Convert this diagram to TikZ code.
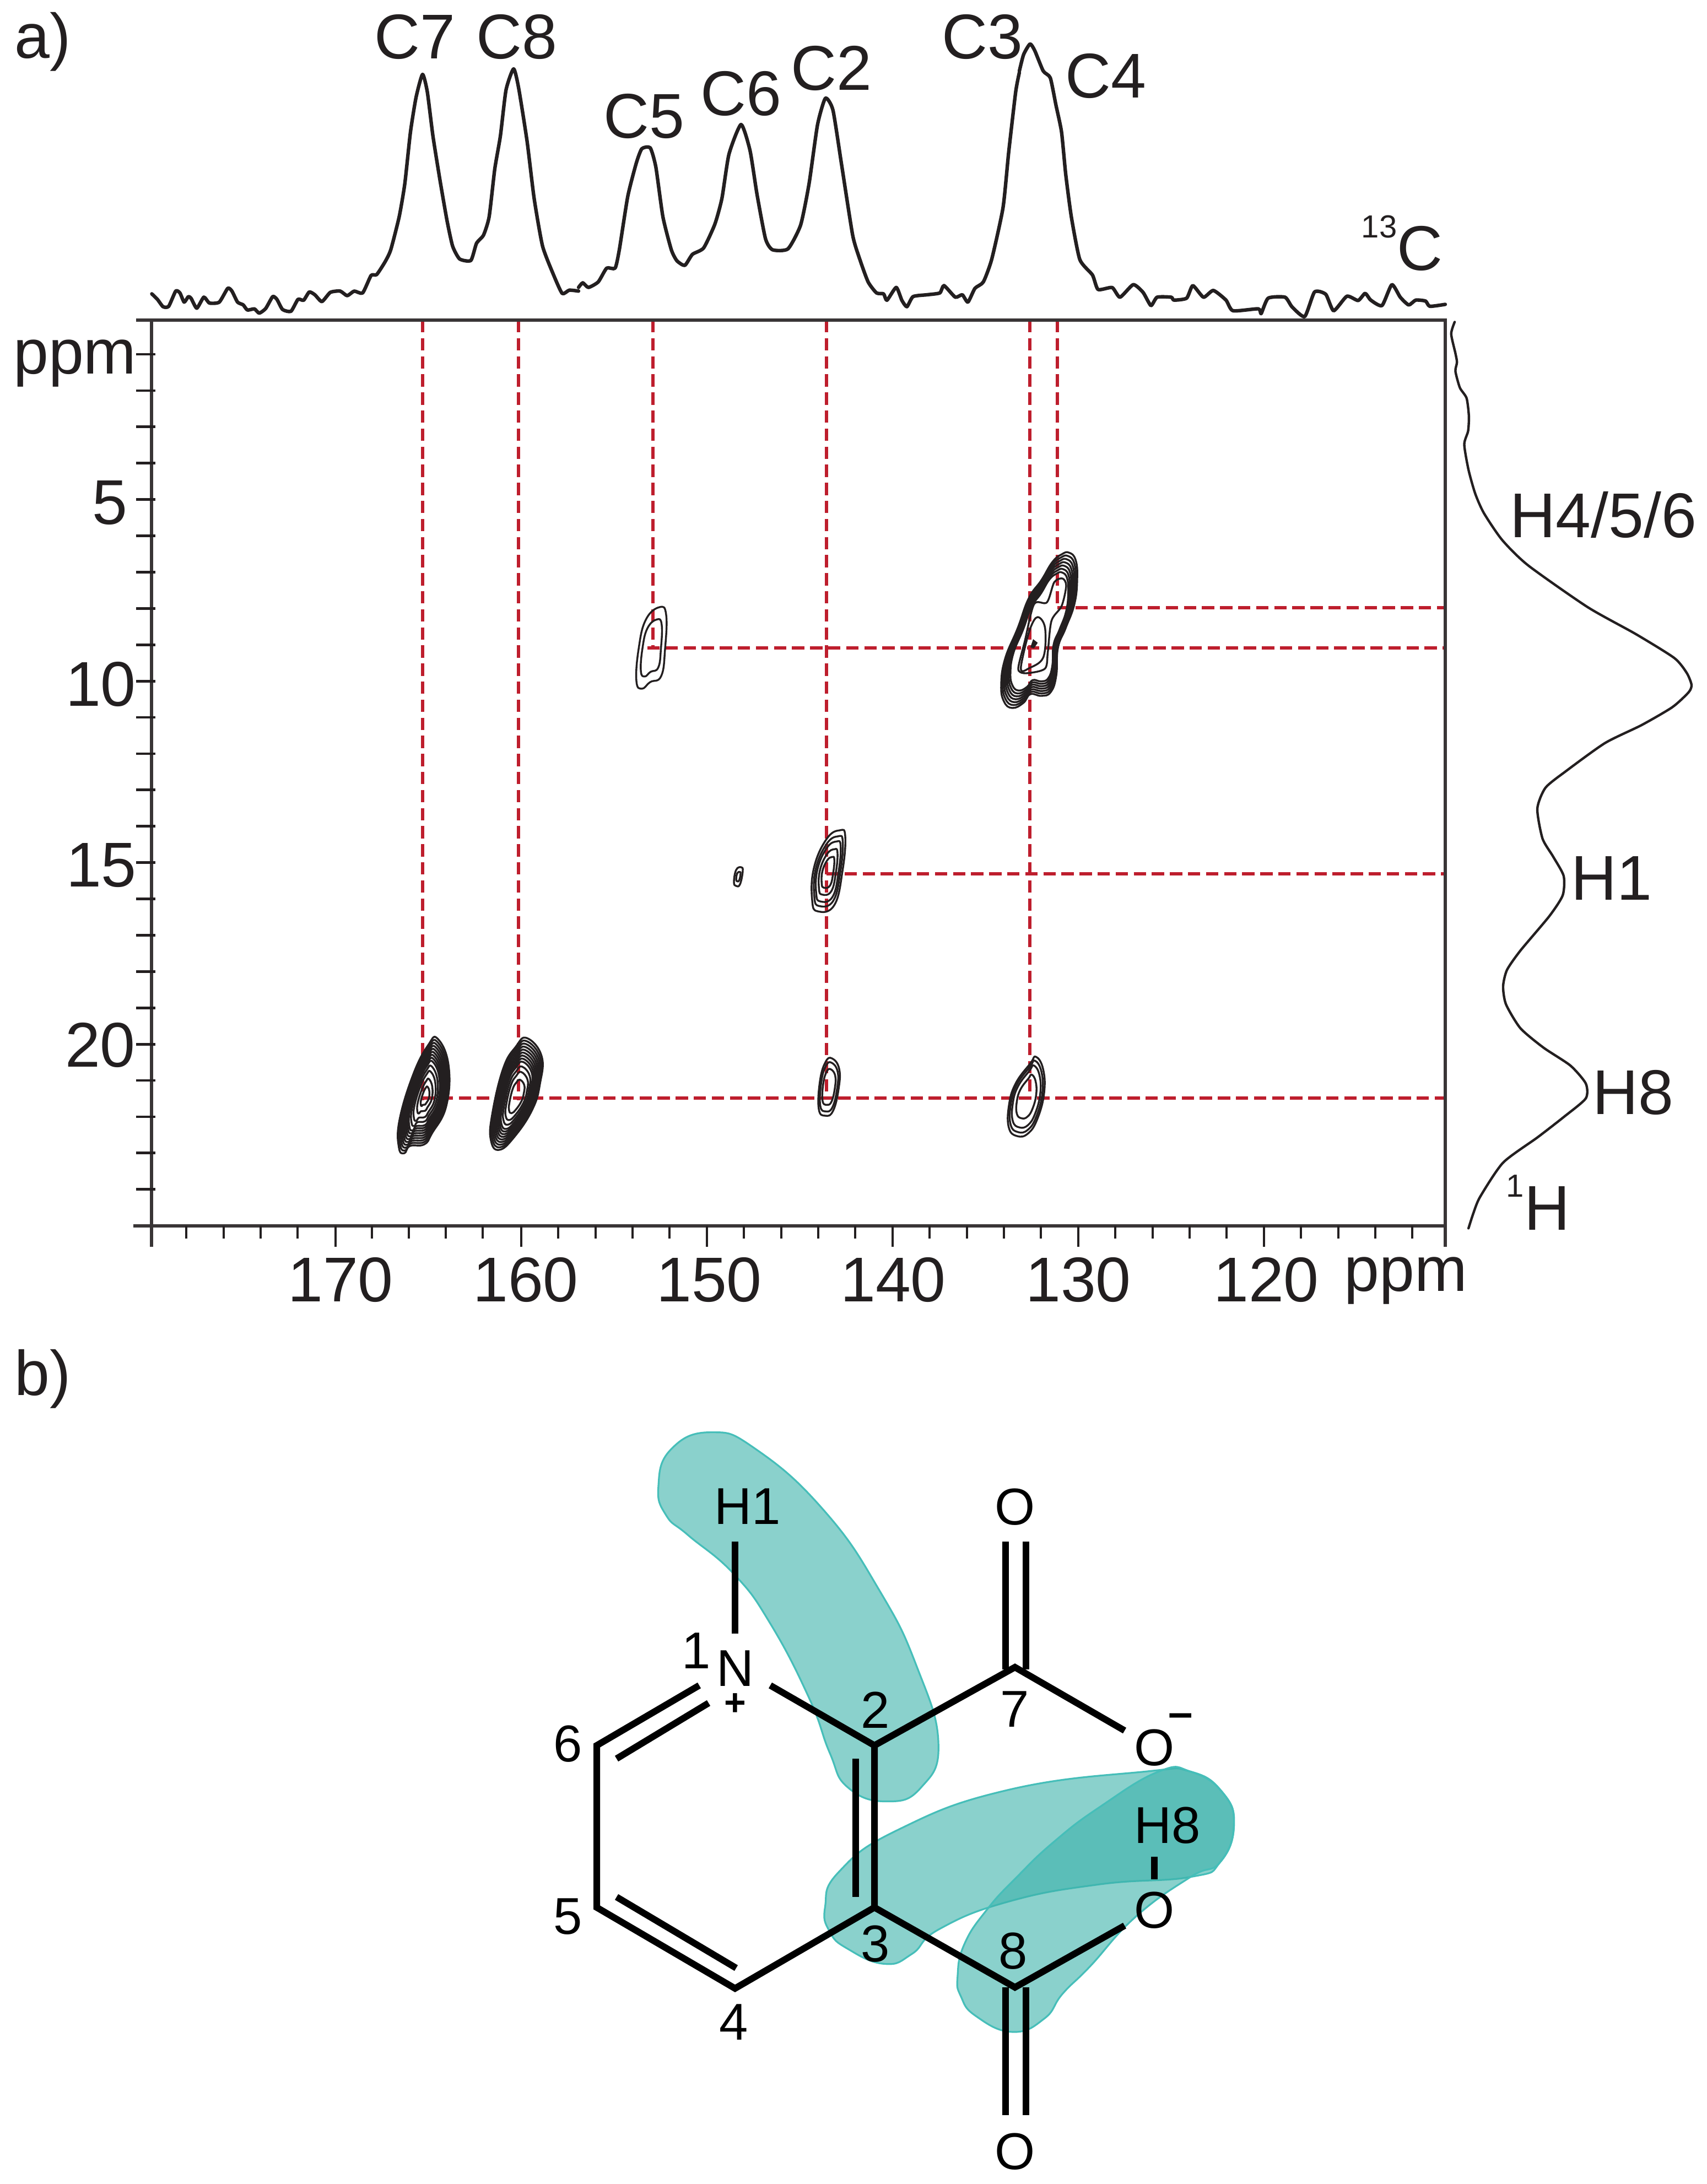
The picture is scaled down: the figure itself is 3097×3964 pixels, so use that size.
\documentclass[tikz,border=0pt]{standalone}
\usepackage{fontspec}
\setmainfont{Liberation Sans}
\definecolor{ink}{RGB}{35,31,32}
\definecolor{redline}{RGB}{190,30,45}
\definecolor{tealfill}{RGB}{60,178,170}
\definecolor{tealedge}{RGB}{70,190,185}
\tikzset{
  lab/.style={inner sep=0pt,anchor=base,text=ink,font=\fontsize{28.7}{29}\selectfont},
  mol/.style={inner sep=0pt,anchor=base,text=black,font=\fontsize{23.5}{24}\selectfont},
  suplab/.style={inner sep=0pt,anchor=base,text=ink,font=\fontsize{14.5}{15}\selectfont},
  axisline/.style={draw=ink!90,line width=1.3pt,line cap=butt},
  tick/.style={draw=ink,line width=1pt},
  ytick/.style={draw=ink,line width=1.2pt},
  redd/.style={draw=redline,line width=1.3pt,dash pattern=on 5.6pt off 2.6pt},
  trace/.style={draw=ink,line width=1.6pt,line join=round,line cap=round},
  tracer/.style={draw=ink,line width=1.1pt,line join=round,line cap=round},
  cnt/.style={draw=ink,line width=.85pt,line join=round},
  blob/.style={fill=tealfill,fill opacity=.6,draw=tealedge,line width=.8pt},
  bond/.style={draw=black,line width=3pt,line cap=butt,line join=miter},
}
\newcommand\cntr[3]{\foreach \s in {#2} \draw[cnt,shift={#1},scale=\s] plot[smooth cycle,tension=.75] coordinates {#3};}
\begin{document}
\begin{tikzpicture}[x=.25pt,y=-.25pt]
\useasboundingbox (0,0) rectangle (3097,3964);
% ---------- red guide lines
\draw[redd] (767,581) -- (767,1997);
\draw[redd] (941,581) -- (941,1997);
\draw[redd] (1185,581) -- (1185,1176);
\draw[redd] (1500,581) -- (1500,1993);
\draw[redd] (1869,581) -- (1869,1993);
\draw[redd] (1919,581) -- (1919,1103);
\draw[redd] (1175,1176) -- (2622,1176);
\draw[redd] (1919,1103) -- (2622,1103);
\draw[redd] (1500,1586) -- (2622,1586);
\draw[redd] (767,1993) -- (2622,1993);
% ---------- frame and ticks
\draw[axisline] (247,581) -- (2623,581) -- (2623,2263);
\draw[axisline] (275,581) -- (275,2263);
\draw[axisline] (242,2225) -- (2623,2225);
\foreach \t in {338,406,473,540,675,742,809,876,1013,1081,1148,1215,1350,1418,1485,1552,1687,1755,1822,1889,2024,2092,2159,2226,2361,2429,2496,2563}
  \draw[tick] (\t,2225) -- (\t,2248);
\foreach \t in {609,946,1283,1620,1957,2294}
  \draw[tick] (\t,2225) -- (\t,2263);
\foreach \k in {0,...,23}
  \draw[ytick] (247,{643+65.9*\k}) -- (282,{643+65.9*\k});
% ---------- 13C spectrum
\begin{scope}[shift={(250,100)},xscale=1/1.96,yscale=1/3]
\draw[trace] plot[smooth,tension=.35] coordinates {(50,1300)(70,1330)(90,1370)(110,1368)(135,1285)(150,1295)(165,1345)(180,1315)(190,1325)(210,1378)(235,1318)(255,1350)(290,1345)(320,1270)(335,1285)(355,1345)(375,1360)(390,1388)(415,1382)(432,1405)(455,1380)(480,1315)(495,1330)(515,1385)(545,1395)(570,1330)(590,1335)(610,1290)(630,1305)(655,1342)(685,1292)(720,1285)(745,1310)(770,1285)(800,1295)(830,1200)(850,1195)(880,1125)(900,1060)(930,880)(950,700)(970,420)(990,230)(1013,105)(1030,200)(1050,440)(1075,680)(1100,900)(1120,1040)(1145,1110)(1185,1118)(1205,1025)(1230,980)(1250,880)(1270,620)(1290,440)(1310,190)(1337,75)(1355,180)(1385,470)(1410,780)(1440,1040)(1480,1200)(1510,1298)(1535,1280)(1568,1285)};
\end{scope}
\begin{scope}[shift={(1050,100)},xscale=1/1.96,yscale=1/3]
\draw[trace] plot[smooth,tension=.35] coordinates {(0,1265)(15,1240)(35,1265)(70,1235)(100,1160)(130,1160)(145,1060)(175,770)(205,590)(225,510)(255,505)(275,610)(300,880)(330,1060)(350,1120)(378,1145)(405,1085)(445,1050)(485,920)(510,780)(535,540)(578,378)(610,520)(635,760)(665,1000)(690,1060)(745,1055)(790,925)(820,700)(850,380)(878,235)(905,300)(935,590)(975,980)(1000,1110)(1030,1235)(1060,1295)(1085,1300)(1097,1335)(1130,1265)(1150,1335)(1168,1370)(1190,1315)(1240,1305)(1285,1295)(1300,1255)(1340,1318)(1365,1305)(1385,1345)(1410,1270)(1440,1235)(1470,1110)(1510,830)(1530,530)(1555,200)(1568,95)};
\end{scope}
\begin{scope}[shift={(1850,50)},xscale=1/1.96,yscale=1/2.85]
\draw[trace] plot[smooth,tension=.35] coordinates {(0,225)(15,140)(38,85)(55,120)(85,225)(110,260)(130,400)(150,540)(165,760)(185,980)(215,1200)(260,1280)(280,1355)(330,1345)(358,1395)(405,1330)(440,1370)(468,1438)(490,1395)(540,1395)(550,1410)(595,1400)(617,1335)(655,1395)(690,1360)(735,1410)(760,1465)(850,1455)(860,1480)(885,1400)(945,1395)(970,1445)(1015,1495)(1050,1368)(1090,1380)(1118,1465)(1165,1390)(1205,1412)(1230,1375)(1250,1410)(1290,1438)(1325,1330)(1355,1395)(1385,1435)(1410,1410)(1445,1415)(1460,1442)(1515,1432)};
\end{scope}
% ---------- 1H spectrum
\begin{scope}[shift={(2550,560)},xscale=1/2.866,yscale=1/1.845]
\draw[tracer] plot[smooth,tension=.4] coordinates {(258,45)(240,85)(262,150)(270,180)(262,210)(285,265)(320,300)(332,360)(328,410)(308,455)(330,540)(365,620)(410,685)(505,775)(640,860)(950,1000)(1200,1090)(1400,1170)(1465,1220)(1490,1260)(1475,1285)(1390,1335)(1230,1395)(1040,1455)(835,1550)(730,1605)(688,1675)(715,1775)(770,1835)(825,1900)(820,1965)(750,2035)(600,2150)(530,2215)(510,2270)(525,2330)(600,2410)(720,2475)(860,2535)(940,2595)(940,2645)(830,2705)(690,2775)(510,2860)(390,2975)(355,3030)(330,3080)};
\end{scope}
% ---------- contours
\cntr{(772,1990)}{1,.95,.9,.85,.8,.75,.7,.65,.6,.52,.43,.3,.17}{(22,-105)(42,-57)(38,17)(12,67)(-2,87)(-28,90)(-38,103)(-48,93)(-47,43)(-22,-40)(5,-93)}
\cntr{(938,1992)}{1,.95,.9,.85,.8,.75,.7,.65,.6,.52,.43,.3}{(18,-108)(45,-75)(42,-25)(28,22)(-5,72)(-32,95)(-47,78)(-45,32)(-25,-52)(-2,-92)}
\cntr{(1504,1973)}{1,.85,.62}{(6,-52)(19,-33)(18,3)(8,43)(-6,52)(-18,40)(-16,-10)(-6,-45)}
\cntr{(1863,1990)}{1,.9,.78,.55}{(17,-72)(30,-50)(32,-7)(20,40)(3,67)(-17,72)(-32,57)(-32,17)(-20,-23)(7,-60)}
\cntr{(1502,1585)}{1,.86,.74,.56,.38}{(22,-78)(32,-67)(27,-4)(12,58)(-18,69)(-28,49)(-25,-9)(-2,-62)}
\cntr{(1340,1591)}{1,.5}{(5,-17)(8,-10)(3,14)(-4,17)(-8,10)(-4,-12)}
\cntr{(1182,1176)}{1,.7}{(15,-74)(27,-60)(25,2)(18,51)(-2,62)(-17,74)(-27,60)(-23,2)(-10,-51)}
\cntr{(1887,1153)}{1,.96,.92,.88,.84,.8,.76}{(53,-150)(65,-137)(68,-103)(63,-57)(47,-13)(33,23)(30,73)(20,103)(3,110)(-17,107)(-30,123)(-50,132)(-65,120)(-70,90)(-63,43)(-40,-13)(-20,-67)(3,-100)(23,-133)(40,-147)}
\begin{scope}[shift={(1700,950)},scale=1/3]
\draw[cnt] plot[smooth cycle,tension=.5] coordinates {(685,300)(705,340)(680,450)(625,530)(605,700)(590,790)(500,815)(455,810)(445,780)(480,640)(530,440)(600,430)(640,320)};
\draw[cnt] plot[smooth cycle,tension=.6] coordinates {(550,510)(590,570)(580,730)(500,790)(460,800)(470,720)(510,570)};
\fill[ink] (525,630) -- (550,650) -- (530,680) -- (510,675) -- cycle;
\end{scope}
% ---------- spectrum labels
\node[lab] (la) at (78,105) {a)};
\node[lab] (lb) at (78,2532) {b)};
\node[lab] (c7) at (753,106) {C7};
\node[lab] (c8) at (938,106) {C8};
\node[lab] (c5) at (1169,250) {C5};
\node[lab] (c6) at (1345,209) {C6};
\node[lab] (c2) at (1509,163) {C2};
\node[lab] (c3) at (1783,106) {C3};
\node[lab] (c4) at (2007,177) {C4};
\node[suplab] (s13) at (2503,431) {13};
\node[lab] (c13) at (2577,490) {C};
\node[lab] (x170) at (618,2362) {170};
\node[lab] (x160) at (954,2362) {160};
\node[lab] (x150) at (1287,2362) {150};
\node[lab] (x140) at (1621,2362) {140};
\node[lab] (x130) at (1957,2362) {130};
\node[lab] (x120) at (2298,2362) {120};
\node[lab] (xppm) at (2551,2343) {ppm};
\node[lab] (yppm) at (136,678) {ppm};
\node[lab] (y5) at (199,951) {5};
\node[lab] (y10) at (183,1281) {10};
\node[lab] (y15) at (184,1609) {15};
\node[lab] (y20) at (182,1936) {20};
\node[lab] (h456) at (2910,975) {H4/5/6};
\node[lab] (h1s) at (2925,1633) {H1};
\node[lab] (h8s) at (2964,2022) {H8};
\node[suplab] (s1) at (2750,2172) {1};
\node[lab] (h1h) at (2808,2232) {H};
% ---------- teal highlights
\begin{scope}[shift={(1000,2550)},xscale=1/1.206,yscale=1/1.109]
\path[blob] plot[smooth cycle,tension=.8] coordinates {(235,165)(262,90)(350,55)(450,90)(600,215)(720,375)(800,525)(848,680)(810,770)(735,798)(650,770)(610,700)(565,590)(480,440)(400,340)(300,262)(252,222)};
\path[blob] plot[smooth cycle,tension=.8] coordinates {(600,1010)(630,940)(760,855)(1000,775)(1300,738)(1400,738)(1470,780)(1495,845)(1465,920)(1400,950)(1200,965)(1000,1000)(850,1055)(790,1105)(730,1125)(650,1095)(610,1060)};
\path[blob] plot[smooth cycle,tension=.8] coordinates {(890,1150)(905,1085)(955,1015)(1020,950)(1100,880)(1200,810)(1330,738)(1400,738)(1470,780)(1495,845)(1465,920)(1400,950)(1280,1030)(1180,1130)(1120,1185)(1080,1235)(1010,1262)(930,1230)(897,1190)};
\end{scope}
% ---------- molecule
\coordinate (a2) at (1587,3168);
\coordinate (a3) at (1587,3462);
\coordinate (a4) at (1334,3609);
\coordinate (a5) at (1083,3462);
\coordinate (a6) at (1083,3168);
\coordinate (a7) at (1842,3026);
\coordinate (a8) at (1842,3607);
\coordinate (nw) at (1269,3059);
\coordinate (ne) at (1398,3059);
\coordinate (nt) at (1334,2965);
\coordinate (ht) at (1334,2798);
\coordinate (om) at (2041,3141);
\coordinate (oh) at (2041,3495);
\coordinate (i6a) at (1119,3192);
\coordinate (i6b) at (1286,3091);
\coordinate (i5a) at (1119,3443);
\coordinate (i5b) at (1336,3572);
\coordinate (i2a) at (1553,3192);
\coordinate (i2b) at (1553,3443);
\coordinate (u1a) at (1825,2798);
\coordinate (u1b) at (1825,3030);
\coordinate (u2a) at (1862,2798);
\coordinate (u2b) at (1862,3030);
\coordinate (d1a) at (1825,3839);
\coordinate (d1b) at (1825,3607);
\coordinate (d2a) at (1862,3839);
\coordinate (d2b) at (1862,3607);
\coordinate (ho1) at (2095,3370);
\coordinate (ho2) at (2095,3411);
\draw[bond] (nw) -- (a6) -- (a5) -- (a4) -- (a3) -- (a2) -- (ne);
\draw[bond] (a2) -- (a7) -- (om);
\draw[bond] (a3) -- (a8) -- (oh);
\draw[bond] (ht) -- (nt);
\draw[bond] (i6a) -- (i6b);
\draw[bond] (i5a) -- (i5b);
\draw[bond] (i2a) -- (i2b);
\draw[bond] (u1a) -- (u1b);
\draw[bond] (u2a) -- (u2b);
\draw[bond] (d1a) -- (d1b);
\draw[bond] (d2a) -- (d2b);
\draw[bond] (ho1) -- (ho2);
\node[mol] (mh1) at (1357,2766) {H1};
\node[mol] (mo1) at (1842,2767) {O};
\node[mol] (mn) at (1334,3060) {N};
\node[inner sep=0pt,text=black,font=\fontsize{17}{17}\selectfont\bfseries] (mplus) at (1334,3094) {+};
\node[mol] (m1) at (1264,3028) {1};
\node[mol] (m2) at (1589,3136) {2};
\node[mol] (m7) at (1842,3134) {7};
\node[mol] (m6) at (1031,3197) {6};
\node[mol] (m5) at (1031,3510) {5};
\node[mol] (m3) at (1589,3560) {3};
\node[mol] (m8) at (1839,3573) {8};
\node[mol] (m4) at (1332,3702) {4};
\node[mol] (mo2) at (2095,3204) {O};
\node[inner sep=0pt,text=black,font=\fontsize{20}{20}\selectfont\bfseries] (mminus) at (2143,3123) {–};
\node[mol] (mh8) at (2119,3345) {H8};
\node[mol] (mo3) at (2095,3499) {O};
\node[mol] (mo4) at (1842,3937) {O};
\end{tikzpicture}
\end{document}
